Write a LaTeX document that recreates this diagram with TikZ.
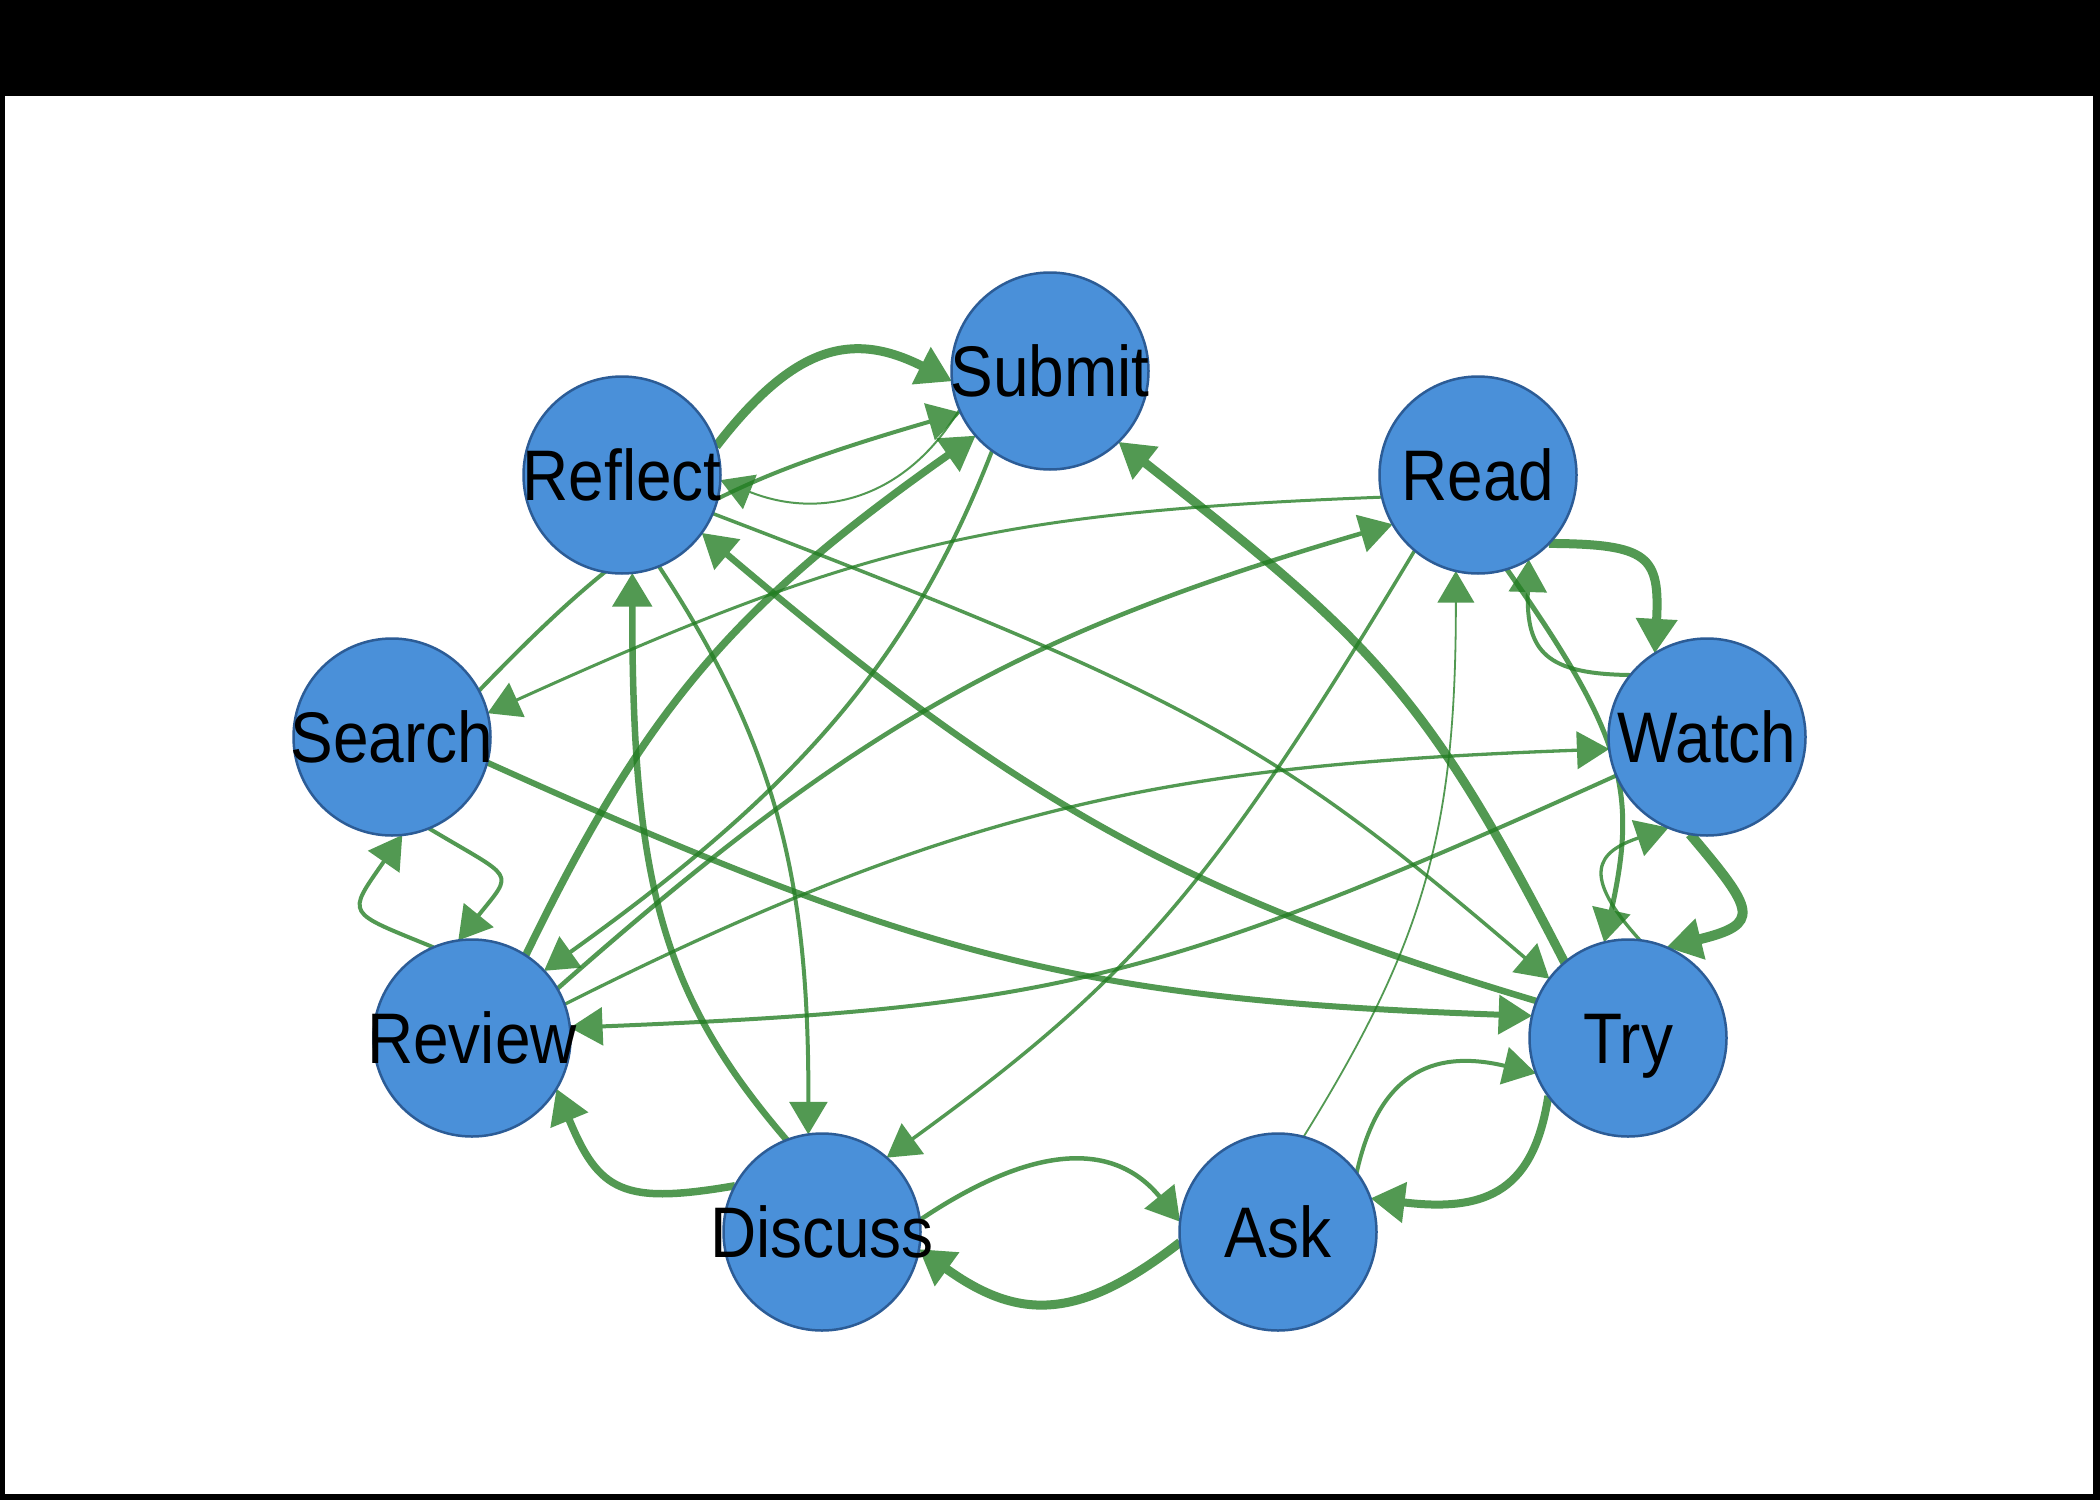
\documentclass[tikz,border=0pt]{standalone}
\usepackage{fontspec}
\setmainfont{Liberation Sans}
\usetikzlibrary{arrows.meta}
\pgfdeclarelayer{paper}
\pgfdeclarelayer{edges}
\pgfsetlayers{paper,edges,main}
\definecolor{edgegreen}{RGB}{34,125,34}
\definecolor{nodefill}{RGB}{74,144,217}
\definecolor{nodeline}{RGB}{44,92,150}
\newcommand\edgeline[2]{\begin{scope}[transparency group, opacity=0.78]\draw[link, line width=#1] #2;\end{scope}}
\begin{document}
\begin{tikzpicture}[x=0.1mm,y=-0.1mm,
  vtx/.style={circle, fill=nodefill, draw=nodeline, line width=0.25mm, minimum size=19.7mm, inner sep=0pt, outer sep=0pt},
  vlabel/.style={inner sep=0pt, outer sep=0pt, text height=14.6pt, text depth=0pt, font=\fontsize{18.2pt}{20pt}\selectfont},
  link/.style={draw=edgegreen, -{Triangle[length=3.1mm 0.4, width=3.6mm 0.4]}},
]
\useasboundingbox (0,0) rectangle (2100,1500);
\begin{pgfonlayer}{paper}
\fill[black] (0,0) rectangle (2100,1500);
\fill[white] (5,96) rectangle (2093,1494);
\end{pgfonlayer}

% vertices
\node[vtx] (submit)  at (1050,371)  {};
\node[vtx] (reflect) at (622,475)   {};
\node[vtx] (read)    at (1478,475)  {};
\node[vtx] (search)  at (392,737)   {};
\node[vtx] (watch)   at (1707,737)  {};
\node[vtx] (review)  at (472,1038)  {};
\node[vtx] (try)     at (1628,1038) {};
\node[vtx] (discuss) at (822,1232)  {};
\node[vtx] (ask)     at (1278,1232) {};

% edges (below the vertices)
\begin{pgfonlayer}{edges}
\edgeline{0.9mm}{(reflect.17) .. controls (795,344) and (853,331) .. (submit.186)}
\edgeline{0.4mm}{(search.28) .. controls (636,528) and (708,486) .. (submit.205)}
\edgeline{0.2mm}{(submit.203) .. controls (905,500) and (820,520) .. (reflect.-3)}
\edgeline{0.75mm}{(review.57) .. controls (646,707) and (735,605) .. (submit.221)}
\edgeline{0.9mm}{(try.130) .. controls (1425,690) and (1370,640) .. (submit.314)}
\edgeline{0.4mm}{(submit.234) .. controls (911,659) and (800,788) .. (review.43)}
\edgeline{0.65mm}{(try.158) .. controls (1185,896) and (1019,802) .. (reflect.-36)}
\edgeline{0.65mm}{(discuss.111) .. controls (662,995) and (632,883) .. (reflect.-84)}
\edgeline{0.4mm}{(reflect.-68) .. controls (780,750) and (809,887) .. (discuss.98)}
\edgeline{0.35mm}{(reflect.-23) .. controls (1190,696) and (1273,742) .. (try.143)}
\edgeline{0.3mm}{(read.193) .. controls (994,512) and (861,544) .. (search.14)}
\edgeline{0.45mm}{(review.30) .. controls (855,726) and (1021,633) .. (read.210)}
\edgeline{0.18mm}{(ask.75) .. controls (1425,941) and (1456,829) .. (read.257)}
\edgeline{0.4mm}{(watch.141) .. controls (1546,674) and (1526,652) .. (read.-59)}
\edgeline{0.9mm}{(read.-44) .. controls (1649,544) and (1660,556) .. (watch.122)}
\edgeline{0.5mm}{(read.-73) .. controls (1624,736) and (1638,791) .. (try.104)}
\edgeline{0.35mm}{(read.230) .. controls (1212,888) and (1133,979) .. (discuss.49)}
\edgeline{0.33mm}{(review.20) .. controls (969,801) and (1177,765) .. (watch.187)}
\edgeline{0.4mm}{(watch.203) .. controls (1157,983) and (1052,1008) .. (review.6)}
\edgeline{0.33mm}{(try.83) .. controls (1580,874) and (1597,852) .. (watch.247)}
\edgeline{1.0mm}{(watch.260) .. controls (1755,911) and (1762,924) .. (try.67)}
\edgeline{0.6mm}{(search.-15) .. controls (930,962) and (1087,1000) .. (try.167)}
\edgeline{0.4mm}{(ask.37) .. controls (1378,1076) and (1430,1048) .. (try.201)}
\edgeline{0.8mm}{(try.216) .. controls (1534,1188) and (1490,1213) .. (ask.20)}
\edgeline{0.45mm}{(discuss.7) .. controls (1036,1142) and (1115,1142) .. (ask.174)}
\edgeline{0.9mm}{(ask.186) .. controls (1080,1320) and (1020,1322) .. (discuss.-10)}
\edgeline{0.75mm}{(discuss.152) .. controls (623,1205) and (599,1192) .. (review.-31)}
\edgeline{0.4mm}{(search.-68) .. controls (515,880) and (515,870) .. (review.98)}
\edgeline{0.4mm}{(review.113) .. controls (345,911) and (346,916) .. (search.-84)}
\end{pgfonlayer}

% labels
\node[vlabel] (submit-t)  at (submit)  {\scalebox{1}[1.12]{Submit}};
\node[vlabel] (reflect-t) at (reflect) {\scalebox{1}[1.12]{Reflect}};
\node[vlabel] (read-t)    at (read)    {\scalebox{1}[1.12]{Read}};
\node[vlabel] (search-t)  at (search)  {\scalebox{1}[1.12]{Search}};
\node[vlabel] (watch-t)   at (watch)   {\scalebox{1}[1.12]{Watch}};
\node[vlabel] (review-t)  at (review)  {\scalebox{1}[1.12]{Review}};
\node[vlabel] (try-t)     at (try)     {\scalebox{1}[1.12]{Try}};
\node[vlabel] (discuss-t) at (discuss) {\scalebox{1}[1.12]{Discuss}};
\node[vlabel] (ask-t)     at (ask)     {\scalebox{1}[1.12]{Ask}};
\end{tikzpicture}
\end{document}
